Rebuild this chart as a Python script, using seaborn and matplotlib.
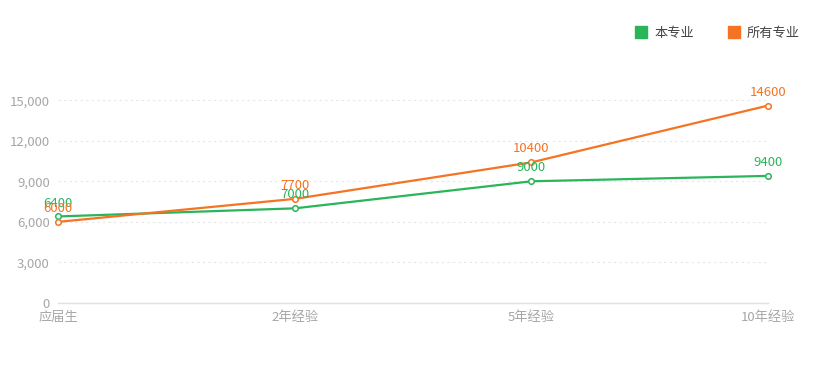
import pandas as pd
import matplotlib.pyplot as plt
import seaborn as sns
from matplotlib.lines import Line2D

# Data
categories = ['应届生', '2年经验', '5年经验', '10年经验']
this_major = [6400, 7000, 9000, 9400]
all_majors = [6000, 7700, 10400, 14600]
series_names = ['本专业', '所有专业']
colors = ['#2ab55a', '#f57323']
y_ticks = [0, 3000, 6000, 9000, 12000, 15000]

sns.set_style('white')
plt.rcParams['font.family'] = ['Noto Sans CJK SC', 'DejaVu Sans']

df = pd.DataFrame({
    'pos': list(range(len(categories))) * 2,
    'value': this_major + all_majors,
    'series': [series_names[0]] * len(categories) + [series_names[1]] * len(categories),
})

fig = plt.figure(figsize=(8.24, 3.92), dpi=100)
ax = fig.add_axes([0.0704, 0.227, 0.8617, 0.621])

sns.lineplot(data=df, x='pos', y='value', hue='series', palette=colors,
             marker='o', markersize=4, markerfacecolor='white', markeredgewidth=1.1,
             linewidth=1.6, ax=ax, legend=False)
# seaborn paints marker edges white, give them the line colour
for line in ax.lines:
    line.set_markeredgecolor(line.get_color())
    line.set_clip_on(False)

# value labels above points
for name, color in zip(series_names, colors):
    sub = df[df['series'] == name]
    for x, y in zip(sub['pos'], sub['value']):
        ax.annotate(str(y), (x, y), xytext=(0, 5), textcoords='offset points',
                    ha='center', va='bottom', color=color, fontsize=9.5)

ax.set_xlim(0, len(categories) - 1)
ax.set_ylim(0, 18000)
ax.set_yticks(y_ticks)
ax.set_yticklabels([f'{v:,}' for v in y_ticks])
ax.set_xticks(range(len(categories)))
ax.set_xticklabels(categories)
ax.set_xlabel('')
ax.set_ylabel('')

ax.tick_params(axis='y', length=0, labelsize=9.5, labelcolor='#a6a6a6', pad=6)
ax.tick_params(axis='x', length=4, color='#e0e0e0', labelsize=9.5, labelcolor='#a6a6a6', pad=2)

for y in y_ticks[1:]:
    ax.axhline(y, color='#e6e6e6', linestyle=(0, (2, 3)), linewidth=0.8, zorder=0)

for s in ['top', 'right', 'left']:
    ax.spines[s].set_visible(False)
ax.spines['bottom'].set_color('#e0e0e0')
ax.spines['bottom'].set_linewidth(1)

handles = [Line2D([], [], marker='s', linestyle='', markersize=9, color=c) for c in colors]
fig.legend(handles, series_names, loc='center right', bbox_to_anchor=(0.985, 0.915),
           ncol=2, frameon=False, fontsize=9.5, handletextpad=0.0, columnspacing=2.0,
           labelcolor='#444444')

fig.savefig('out.png', dpi=100)
